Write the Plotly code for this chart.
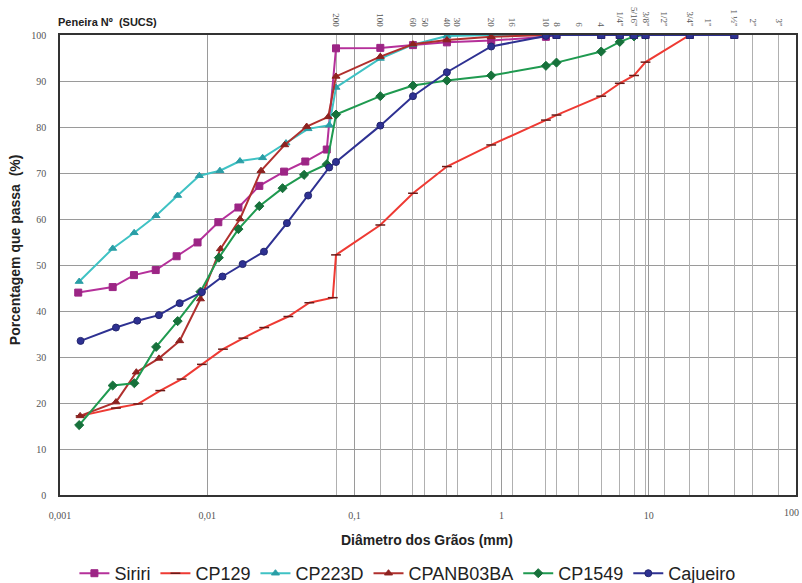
import math
import plotly.graph_objects as go

# ---------------- data ----------------
sieve_mm = [0.075, 0.15, 0.25, 0.3, 0.425, 0.5, 0.85, 1.18, 2.0, 2.36, 3.35, 4.75,
            6.35, 7.94, 9.5, 12.7, 19.0, 25.4, 38.1, 50.8, 76.2]
sieve_labels = ["200", "100", "60", "50", "40", "30", "20", "16", "10", "8", "6", "4",
                "1/4\"", "5/16\"", "3/8\"", "1/2\"", "3/4\"", "1\"", "1 ½\"", "2\"", "3\""]
decades = [0.001, 0.01, 0.1, 1, 10, 100]
decade_labels = ["0,001", "0,01", "0,1", "1", "10", "100"]

siriri_d = [0.00133, 0.00228, 0.00318, 0.00447, 0.0062, 0.0086, 0.0119, 0.0163, 0.0226,
            0.0333, 0.0464, 0.0649, 0.075, 0.15, 0.25, 0.425, 0.85, 2.0, 2.36, 4.75, 6.35,
            7.94, 9.5, 19.0, 38.1]
siriri_v = [44.0, 45.2, 47.8, 48.9, 51.9, 54.9, 59.3, 62.5, 67.2, 70.3, 72.5, 75.1, 97.1,
            97.2, 97.8, 98.4, 98.8, 99.6, 100, 100, 100, 100, 100, 100, 100]

cp129_d = [0.00138, 0.0024, 0.0034, 0.0048, 0.0067, 0.0092, 0.0128, 0.0176, 0.0244, 0.0356,
           0.0494, 0.0713, 0.075, 0.15, 0.25, 0.425, 0.85, 2.0, 2.36, 4.75, 6.35, 7.94, 9.5,
           19.0]
cp129_v = [17.2, 18.9, 19.8, 22.7, 25.2, 28.4, 31.7, 34.1, 36.4, 38.8, 41.8, 42.9, 52.2,
           58.7, 65.6, 71.4, 76.1, 81.5, 82.6, 86.7, 89.5, 91.2, 94.1, 100]

cp223d_d = [0.00135, 0.00228, 0.00319, 0.00449, 0.0063, 0.00884, 0.0122, 0.0167, 0.0238,
            0.0343, 0.0484, 0.0676, 0.075, 0.15, 0.25, 0.425, 0.85, 2.0]
cp223d_v = [46.4, 53.6, 57.0, 60.7, 65.1, 69.4, 70.5, 72.6, 73.3, 76.5, 79.6, 80.4, 88.6,
            94.9, 97.9, 99.8, 100, 100]

cpanb_d = [0.00137, 0.0024, 0.0033, 0.0047, 0.0065, 0.0090, 0.0123, 0.0167, 0.0232, 0.0336,
           0.0474, 0.0664, 0.075, 0.15, 0.25, 0.425, 0.85, 2.0]
cpanb_v = [17.2, 20.2, 26.7, 29.7, 33.5, 42.6, 53.5, 60.0, 70.5, 76.1, 80.1, 82.2, 91.0,
           95.3, 98.0, 98.9, 99.6, 100]

cp1549_d = [0.00135, 0.00228, 0.0032, 0.0045, 0.0063, 0.0090, 0.012, 0.0163, 0.0226,
            0.0325, 0.0455, 0.0649, 0.075, 0.15, 0.25, 0.425, 0.85, 2.0, 2.36, 4.75, 6.35,
            7.94, 9.5]
cp1549_v = [15.2, 23.8, 24.3, 32.2, 37.8, 44.2, 51.6, 57.8, 62.8, 66.7, 69.6, 71.9, 82.7,
            86.7, 89.0, 90.1, 91.2, 93.3, 94.0, 96.4, 98.5, 99.7, 100]

cajueiro_d = [0.00138, 0.0024, 0.00335, 0.0047, 0.0065, 0.0092, 0.0127, 0.0174, 0.0243,
              0.0348, 0.0485, 0.0674, 0.075, 0.15, 0.25, 0.425, 0.85, 2.0, 2.36, 4.75, 6.35,
              7.94, 9.5, 19.0, 38.1]
cajueiro_v = [33.5, 36.4, 37.9, 39.1, 41.7, 44.1, 47.5, 50.2, 52.9, 59.1, 65.1, 71.2, 72.4,
              80.3, 86.7, 91.9, 97.5, 99.8, 100, 100, 100, 100, 100, 100, 100]

# ---------------- figure ----------------
fig = go.Figure()

def add(name, d, v, color, symbol, msize, mcolor, lw=2):
    fig.add_trace(go.Scatter(
        x=d, y=v, name=name, mode="lines+markers",
        line=dict(color=color, width=lw),
        marker=dict(symbol=symbol, size=msize, color=mcolor,
                    line=dict(color=mcolor, width=1.5 if symbol == "line-ew" else 1)),
    ))

add("Siriri", siriri_d, siriri_v, "#B5309A", "square", 7, "#9C2585")
add("CP129", cp129_d, cp129_v, "#EE3A33", "line-ew", 7, "#6A1A18")
add("CP223D", cp223d_d, cp223d_v, "#3FC2C4", "triangle-up", 7, "#2A9EA6")
add("CPANB03BA", cpanb_d, cpanb_v, "#B0302E", "triangle-up", 7, "#8E2220")
add("CP1549", cp1549_d, cp1549_v, "#1F9A50", "diamond", 7, "#17713B")

caj_symbols = ["circle"] * 18 + ["square"] * (len(cajueiro_d) - 18)
fig.add_trace(go.Scatter(
    x=cajueiro_d, y=cajueiro_v, name="Cajueiro", mode="lines+markers",
    line=dict(color="#2E3192", width=2),
    marker=dict(symbol=caj_symbols, size=7, color="#2E3192",
                line=dict(color="#23266F", width=1)),
))

# top axis with sieve sizes (invisible helper trace so the axis exists)
fig.add_trace(go.Scatter(x=[sieve_mm[0]], y=[0], xaxis="x2", mode="markers",
                         marker=dict(opacity=0), showlegend=False, hoverinfo="skip"))

serif = "Liberation Serif, Times New Roman, serif"
sans = "Liberation Sans, Arial, sans-serif"
tickfont = dict(family=serif, size=10, color="#555")

fig.update_layout(
    width=802, height=583,
    margin=dict(l=60, r=6, t=35, b=88),
    paper_bgcolor="white", plot_bgcolor="white",
    font=dict(family=sans, color="#222"),
    xaxis=dict(type="log", range=[-3, 2], tickvals=decades[:-1], ticktext=decade_labels[:-1],
               showgrid=True, gridcolor="#9a9a9a", gridwidth=1,
               showline=True, linecolor="#333", linewidth=1.5, mirror=True,
               ticks="", ticklabelstandoff=10, tickfont=tickfont,
               zeroline=False, automargin=False),
    xaxis2=dict(type="log", range=[-3, 2], overlaying="x", side="top",
                tickvals=sieve_mm, ticktext=sieve_labels, tickangle=90,
                showgrid=True, gridcolor="#b0b0b0", gridwidth=1,
                ticks="", ticklabelstandoff=6,
                tickfont=dict(family=serif, size=9, color="#555"),
                showline=False, zeroline=False, automargin=False),
    yaxis=dict(range=[0, 100], dtick=10, showgrid=True, gridcolor="#9a9a9a", gridwidth=1,
               showline=True, linecolor="#333", linewidth=1.5, mirror=True,
               ticks="", ticklabelstandoff=10, tickfont=tickfont,
               zeroline=False, automargin=False),
    legend=dict(orientation="h", xref="container", yref="container",
                x=0.508, xanchor="center", y=0.048, yanchor="top",
                font=dict(family=sans, size=18, color="#222"), itemwidth=30,
                tracegroupgap=0),
    showlegend=True,
)

# last decade label, drawn just inside the right edge of the page
fig.add_annotation(text=decade_labels[-1], xref="x", yref="paper",
                   x=math.log10(decades[-1]), y=0, xanchor="center", yanchor="top",
                   xshift=-5, yshift=-10, showarrow=False, font=tickfont)

fig.add_annotation(text="<b>Peneira Nº  (SUCS)</b>", xref="paper", yref="paper",
                   x=-0.006, y=1.028, xanchor="left", yanchor="middle", showarrow=False,
                   font=dict(family=sans, size=11, color="#222"))
fig.add_annotation(text="<b>Diâmetro dos Grãos (mm)</b>", xref="paper", yref="paper",
                   x=0.499, y=-0.098, xanchor="center", yanchor="middle", showarrow=False,
                   font=dict(family=sans, size=14, color="#222"))
fig.add_annotation(text="<b>Porcentagem que passa  (%)</b>", xref="paper", yref="paper",
                   x=-0.062, y=0.533, xanchor="center", yanchor="middle", showarrow=False,
                   textangle=-90, font=dict(family=sans, size=14, color="#222"))

fig.write_html("out.html")
